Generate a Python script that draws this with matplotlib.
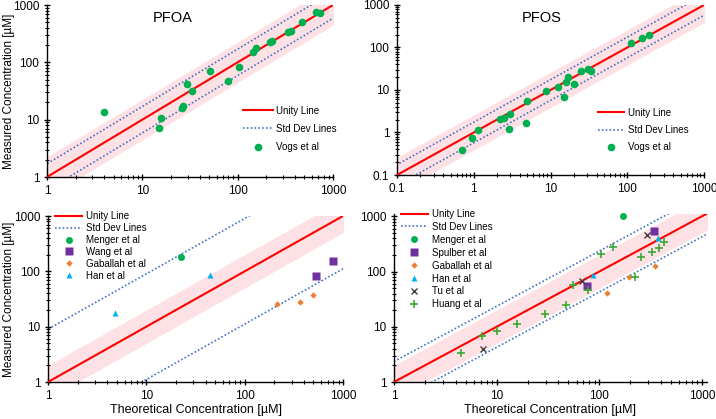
import numpy as np
import matplotlib
matplotlib.use("Agg")
import matplotlib.pyplot as plt
from matplotlib.ticker import FixedLocator, LogLocator, NullFormatter, FuncFormatter

plt.rcParams['font.family'] = ['Liberation Sans', 'DejaVu Sans']

# ---------------- data ----------------
# PFOA (Vogs et al)
pfoa_theo = [4.0, 14.8, 15.7, 25.8, 27.0, 29.5, 33.3, 51.1, 79.4, 102.8, 146.5, 156, 217, 228,
             340, 360, 474, 670, 738]
pfoa_meas = [13.5, 7.3, 10.9, 16.3, 17.2, 41.6, 31.4, 71.1, 47.6, 83.6, 152.8, 179.5, 222, 231,
             333, 346, 511, 743, 714]

# PFOS (Vogs et al)
pfos_theo = [0.705, 0.951, 1.15, 2.21, 2.51, 2.86, 2.98, 4.77, 4.96, 8.78, 12.7, 14.9, 15.7, 17.0,
             20.1, 24.9, 30.4, 33.6, 112.7, 157, 190]
pfos_meas = [0.394, 0.729, 1.125, 2.12, 2.14, 1.21, 2.72, 1.64, 5.51, 9.3, 11.97, 6.97, 15.7, 20.6,
             14.1, 28.0, 31.8, 28.5, 125, 167, 200]

# PFOA literature
pfoa_menger_theo = [22.7]
pfoa_menger_meas = [178]
pfoa_wang_theo = [535, 791]
pfoa_wang_meas = [81.9, 155]
pfoa_gaballah_theo = [215, 362, 495]
pfoa_gaballah_meas = [25.8, 28.1, 38.1]
pfoa_han_theo = [4.76, 44.8]
pfoa_han_meas = [17.3, 85.4]

# PFOS literature
pfos_menger_theo = [172]
pfos_menger_meas = [1000]
pfos_spulber_theo = [75.7, 340]
pfos_spulber_meas = [54.7, 545]
pfos_gaballah_theo = [119, 193.6, 352]
pfos_gaballah_meas = [41.4, 79.6, 126]
pfos_han_theo = [86, 370]
pfos_han_meas = [87.8, 406]
pfos_tu_theo = [7.35, 67.2, 292]
pfos_tu_meas = [4.0, 68.4, 454]
pfos_huang_theo = [4.45, 7.19, 10.1, 15.7, 29.4, 47.2, 54.9, 76.9, 103, 136, 223, 252, 327, 380, 425]
pfos_huang_meas = [3.40, 6.8, 8.5, 11.2, 17.3, 24.4, 56.2, 46.3, 210, 278, 79.6, 184, 227, 272, 344]

# unity band / std-dev factors for each panel
band_factors = [2.25, 2.6, 2.0, 2.0]
std_factors = [1.7, 1.75, 9.0, 2.35]

# ---------------- styles ----------------
RED = '#FF0000'
BLUE = '#4472C4'
PINK = '#FDE1E4'
GREEN = '#00B050'
PURPLE = '#7030A0'
ORANGE = '#ED7D31'
CYAN = '#00B0F0'
DARK = '#404040'
HGREEN = '#3AAA35'

fig = plt.figure(figsize=(7.16, 4.19), dpi=100)
W, H = 716.0, 419.0

def ax_px(x0, y0, x1, y1):
    return fig.add_axes([x0 / W, (H - y1) / H, (x1 - x0) / W, (y1 - y0) / H])

axes = [ax_px(47, 5, 333, 177), ax_px(397, 5, 704, 175),
        ax_px(48, 216, 343, 382), ax_px(394, 214, 707, 382)]
xlims = [(1, 1000), (0.1, 1000), (1, 1000), (1, 1120)]
ylims = [(1, 1000), (0.1, 1000), (1, 1000), (1, 1100)]

fmt = FuncFormatter(lambda v, p: '{:g}'.format(v))

for i, ax in enumerate(axes):
    ax.set_xscale('log')
    ax.set_yscale('log')
    ax.set_xlim(*xlims[i])
    ax.set_ylim(*ylims[i])
    xs = np.logspace(np.log10(xlims[i][0]) - 0.1, np.log10(xlims[i][1]) + 0.1, 50)
    bf = band_factors[i]
    sf = std_factors[i]
    ax.fill_between(xs, xs / bf, xs * bf, color=PINK, lw=0, zorder=1)
    ax.plot(xs, xs, color=RED, lw=1.5, zorder=3, label='Unity Line')
    ax.plot(xs, xs * sf, color=BLUE, lw=1.2, ls=(0, (1, 1.3)), zorder=2, label='Std Dev Lines')
    ax.plot(xs, xs / sf, color=BLUE, lw=1.2, ls=(0, (1, 1.3)), zorder=2)
    for s in ['top', 'right']:
        ax.spines[s].set_visible(False)
    for s in ['left', 'bottom']:
        ax.spines[s].set_linewidth(1.0)
    lo = int(np.log10(xlims[i][0]))
    ax.xaxis.set_major_locator(FixedLocator([10.0 ** k for k in range(lo, 4)]))
    loy = int(np.log10(ylims[i][0]))
    ax.yaxis.set_major_locator(FixedLocator([10.0 ** k for k in range(loy, 4)]))
    ax.xaxis.set_minor_locator(LogLocator(base=10, subs=np.arange(2, 10)))
    ax.yaxis.set_minor_locator(LogLocator(base=10, subs=np.arange(2, 10)))
    ax.xaxis.set_major_formatter(fmt)
    ax.yaxis.set_major_formatter(fmt)
    ax.xaxis.set_minor_formatter(NullFormatter())
    ax.yaxis.set_minor_formatter(NullFormatter())
    ax.tick_params(which='major', direction='inout', length=5, width=1, labelsize=8.5, pad=3)
    ax.tick_params(which='minor', direction='inout', length=3, width=0.8)

# top-left PFOA
ax = axes[0]
ax.plot(pfoa_theo, pfoa_meas, 'o', color=GREEN, ms=5.5, mec='none', zorder=4, label='Vogs et al')
ax.text(0.44, 0.965, 'PFOA', transform=ax.transAxes, ha='center', va='top', fontsize=10.5)
ax.set_ylabel('Measured Concentration [µM]', fontsize=8.5)
ax.yaxis.set_label_coords(-0.112, 0.5)
ax.legend(loc='upper left', bbox_to_anchor=(0.685, 0.415), frameon=False, fontsize=7,
          borderpad=0, borderaxespad=0, handlelength=3.1, handletextpad=0.3, labelspacing=0.85)

# top-right PFOS
ax = axes[1]
ax.plot(pfos_theo, pfos_meas, 'o', color=GREEN, ms=5.5, mec='none', zorder=4, label='Vogs et al')
ax.text(0.47, 0.965, 'PFOS', transform=ax.transAxes, ha='center', va='top', fontsize=10.5)
ax.legend(loc='upper left', bbox_to_anchor=(0.655, 0.395), frameon=False, fontsize=7,
          borderpad=0, borderaxespad=0, handlelength=2.7, handletextpad=0.35, labelspacing=0.75)

# bottom-left PFOA literature
ax = axes[2]
ax.plot(pfoa_menger_theo, pfoa_menger_meas, 'o', color=GREEN, ms=5, mec='none', zorder=4, label='Menger et al')
ax.plot(pfoa_wang_theo, pfoa_wang_meas, 's', color=PURPLE, ms=5.5, mec='none', zorder=4, label='Wang et al')
ax.plot(pfoa_gaballah_theo, pfoa_gaballah_meas, 'D', color=ORANGE, ms=3.2, mec='none', zorder=4, label='Gaballah et al')
ax.plot(pfoa_han_theo, pfoa_han_meas, '^', color=CYAN, ms=4.5, mec='none', zorder=4, label='Han et al')
ax.set_ylabel('Measured Concentration [µM]', fontsize=8.5)
ax.yaxis.set_label_coords(-0.112, 0.5)
ax.set_xlabel('Theoretical Concentration [µM]', fontsize=9, labelpad=2)
ax.legend(loc='upper left', bbox_to_anchor=(0.024, 1.03), frameon=False, fontsize=7,
          borderpad=0, borderaxespad=0, handlelength=2.8, handletextpad=0.35, labelspacing=0.2)

# bottom-right PFOS literature
ax = axes[3]
ax.plot(pfos_menger_theo, pfos_menger_meas, 'o', color=GREEN, ms=5, mec='none', zorder=4, label='Menger et al', clip_on=False)
ax.plot(pfos_spulber_theo, pfos_spulber_meas, 's', color=PURPLE, ms=5.5, mec='none', zorder=4, label='Spulber et al')
ax.plot(pfos_gaballah_theo, pfos_gaballah_meas, 'D', color=ORANGE, ms=3.2, mec='none', zorder=4, label='Gaballah et al')
ax.plot(pfos_han_theo, pfos_han_meas, '^', color=CYAN, ms=4.5, mec='none', zorder=4, label='Han et al')
ax.plot(pfos_tu_theo, pfos_tu_meas, 'x', color=DARK, ms=5, mew=1.0, zorder=4, label='Tu et al')
ax.plot(pfos_huang_theo, pfos_huang_meas, '+', color=HGREEN, ms=6, mew=1.2, zorder=4, label='Huang et al')
ax.set_xlabel('Theoretical Concentration [µM]', fontsize=9, labelpad=2)
ax.legend(loc='upper left', bbox_to_anchor=(0.022, 1.03), frameon=False, fontsize=7,
          borderpad=0, borderaxespad=0, handlelength=2.8, handletextpad=0.35, labelspacing=0.3)

fig.savefig('out.png', dpi=100)
